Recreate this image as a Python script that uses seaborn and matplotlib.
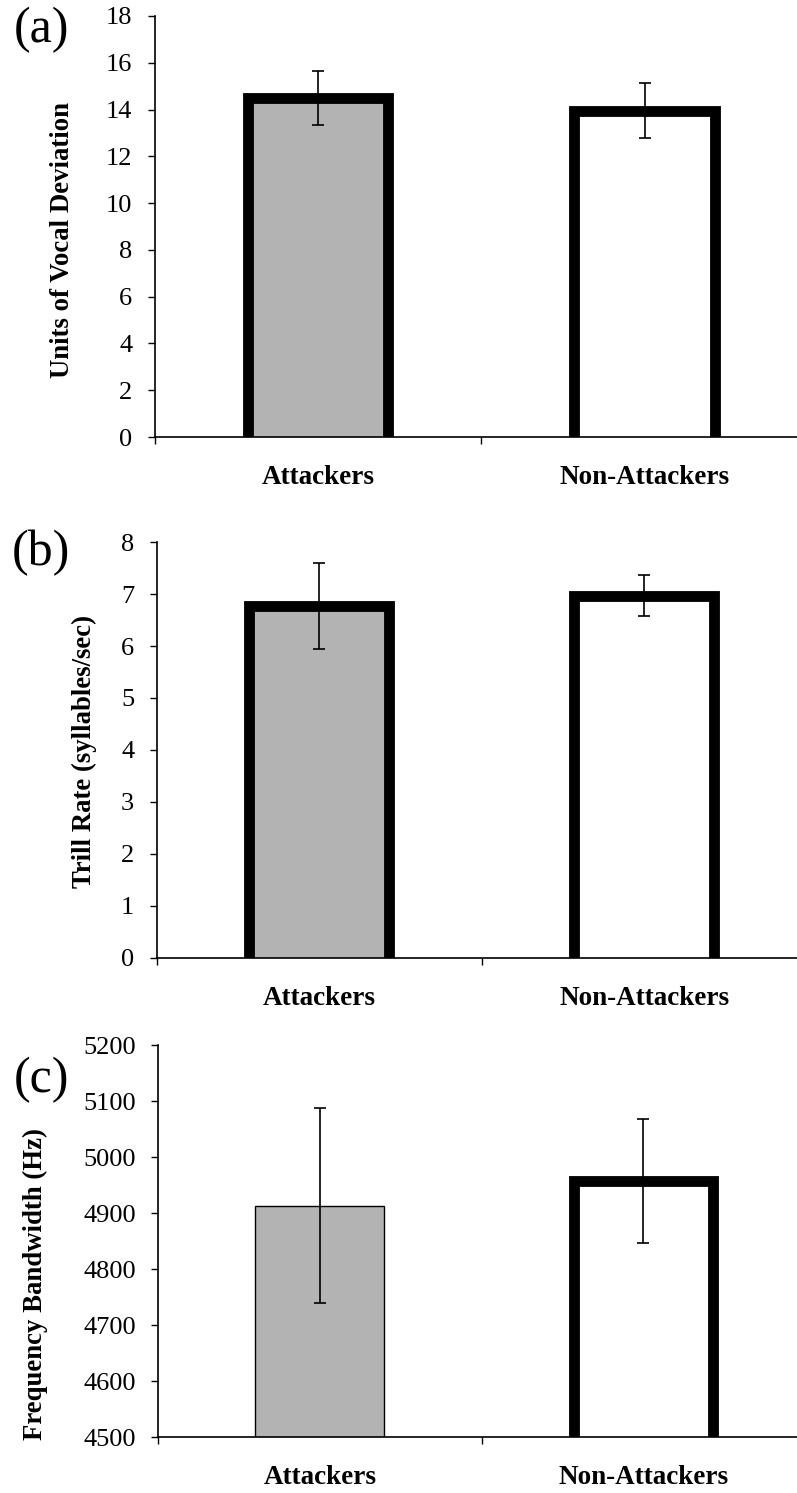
import numpy as np
import pandas as pd
import seaborn as sns
import matplotlib.pyplot as plt

# --- Data ---
GROUPS = ['Attackers', 'Non-Attackers']

DEVIATION = [14.5, 13.95]
DEVIATION_ERR = [1.15, 1.17]

TRILL_RATE = [6.77, 6.97]
TRILL_RATE_ERR = [0.82, 0.40]

BANDWIDTH = [4913, 4957]
BANDWIDTH_ERR = [174, 110]

PANEL_LETTERS = ['(a)', '(b)', '(c)']
Y_LABELS = ['Units of Vocal Deviation', 'Trill Rate (syllables/sec)', 'Frequency Bandwidth (Hz)']
Y_LIMITS = [(0, 18), (0, 8), (4500, 5200)]
Y_STEPS = [2, 1, 100]

# --- Style ---
W, H, DPI = 797, 1493, 100
SERIF = ['Liberation Serif', 'DejaVu Serif']
FILL = ['#b3b3b3', '#ffffff']
THICK = 7.8  # pt, heavy bar outline

sns.set_theme(style='white')
plt.rcParams['font.family'] = SERIF
plt.rcParams['text.color'] = 'black'
plt.rcParams['xtick.color'] = 'black'
plt.rcParams['ytick.color'] = 'black'


def px(x, y):
    """pixel position (from top-left) -> figure fraction"""
    return x / W, 1 - y / H


def draw_panel(fig, rect, values, errors, ylim, step, ylabel, letter,
               label_pos, letter_pos, edge_widths):
    ax = fig.add_axes(rect)
    df = pd.DataFrame({'group': GROUPS, 'value': values})
    sns.barplot(data=df, x='group', y='value', hue='group', palette=FILL,
                width=0.43, legend=False, ax=ax, errorbar=None)
    span = ylim[1] - ylim[0]
    for patch, lw in zip(ax.patches, edge_widths):
        patch.set_edgecolor('black')
        patch.set_linewidth(lw)
        # push the bar base below the axis so its bottom outline is clipped away
        top = patch.get_y() + patch.get_height()
        base = ylim[0] - 0.05 * span
        patch.set_y(base)
        patch.set_height(top - base)
        if lw < 2:
            # thin-outlined bar is slightly narrower in the original
            cx = patch.get_x() + patch.get_width() / 2
            patch.set_width(0.40)
            patch.set_x(cx - 0.20)
    ax.errorbar(np.arange(len(GROUPS)), values, yerr=errors, fmt='none',
                ecolor='black', elinewidth=1.2, capsize=4.5, capthick=1.2,
                zorder=5)

    ax.set_xlim(-0.5, 1.5)
    ax.set_ylim(*ylim)
    ax.set_yticks(np.arange(ylim[0], ylim[1] + step / 2, step))
    ax.set_xticks(range(len(GROUPS)))
    ax.set_xticklabels(GROUPS, fontweight='bold', fontsize=19.5)
    ax.set_xticks([-0.5, 0.5, 1.5], minor=True)
    ax.tick_params(axis='x', which='major', length=0, pad=20)
    ax.tick_params(axis='x', which='minor', length=5, width=1, direction='out',
                   color='black', bottom=True)
    ax.tick_params(axis='y', length=5, width=1, direction='out', color='black',
                   labelsize=19, pad=11, left=True)
    ax.set_xlabel('')
    ax.set_ylabel('')
    sns.despine(ax=ax)
    for side in ['left', 'bottom']:
        ax.spines[side].set_color('black')
        ax.spines[side].set_linewidth(1.2)
        ax.spines[side].set_zorder(6)

    fig.text(*px(*label_pos), ylabel, rotation=90, ha='center', va='center',
             fontsize=19.3, fontweight='bold')
    fig.text(*px(*letter_pos), letter, ha='center', va='center', fontsize=36)
    return ax


fig = plt.figure(figsize=(W / DPI, H / DPI), dpi=DPI)

# axes rectangles in pixels: left, top, right, bottom
boxes = [(154.5, 16, 808, 437), (156.5, 542, 807, 958), (158, 1045, 805, 1437)]
label_positions = [(63, 240), (84, 752), (35, 1284)]
letter_positions = [(42, 30), (41, 553), (41, 1080)]
edge_sets = [(THICK, THICK), (THICK, THICK), (1.0, THICK)]
series = [(DEVIATION, DEVIATION_ERR), (TRILL_RATE, TRILL_RATE_ERR), (BANDWIDTH, BANDWIDTH_ERR)]

for i in range(3):
    l, t, r, b = boxes[i]
    rect = [l / W, 1 - b / H, (r - l) / W, (b - t) / H]
    vals, errs = series[i]
    draw_panel(fig, rect, vals, errs, Y_LIMITS[i], Y_STEPS[i], Y_LABELS[i],
               PANEL_LETTERS[i], label_positions[i], letter_positions[i],
               edge_sets[i])

fig.savefig('out.png', dpi=DPI)
